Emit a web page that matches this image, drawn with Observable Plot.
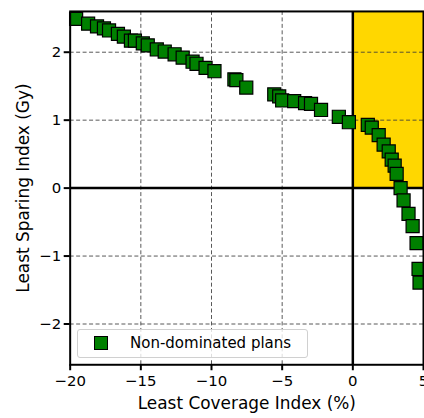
<!DOCTYPE html>
<html>
<head>
<meta charset="utf-8">
<script src="https://cdn.jsdelivr.net/npm/d3@7"></script>
<script src="https://cdn.jsdelivr.net/npm/@observablehq/plot@0.6"></script>
<style>
  html, body { margin: 0; padding: 0; background: #fff; overflow: hidden; }
  #wrap { position: relative; width: 424px; height: 418px; overflow: hidden; font-family: "DejaVu Sans", sans-serif; }
  #legend { position: absolute; left: 77px; top: 329px; width: 231px; height: 29px; box-sizing: border-box;
    border: 1px solid #d0d0d0; border-radius: 3px; background: rgba(255,255,255,0.8); }
  #legend span.sw { position: absolute; left: 16px; top: 6px; width: 14px; height: 14px; box-sizing: border-box;
    background: #008000; border: 1px solid #000; }
  #legend span.tx { position: absolute; left: 52px; top: 4px; font-size: 15px; color: #000; line-height: 19px; }
</style>
</head>
<body>
<div id="wrap"></div>
<script>
// Data
const coverage = [-19.58, -18.73, -18.10, -17.61, -17.25, -16.62, -16.20, -15.70, -15.42, -14.86, -14.51,
  -13.87, -13.31, -12.61, -12.04, -11.34, -11.06, -10.42, -9.79, -8.38, -8.24, -7.54,
  -5.56, -5.21, -5.00, -4.15, -3.38, -2.96, -2.25, -0.99, -0.28,
  1.06, 1.34, 1.83, 2.18, 2.54, 2.75, 2.96, 3.10, 3.38, 3.59, 3.94, 4.23, 4.51, 4.65, 4.72];
const sparing = [2.49, 2.42, 2.38, 2.35, 2.32, 2.27, 2.23, 2.17, 2.17, 2.13, 2.10,
  2.04, 2.01, 1.97, 1.92, 1.86, 1.83, 1.77, 1.72, 1.60, 1.59, 1.48,
  1.38, 1.35, 1.29, 1.28, 1.25, 1.24, 1.15, 1.05, 0.97,
  0.93, 0.89, 0.78, 0.64, 0.54, 0.42, 0.33, 0.21, 0.00, -0.18, -0.38, -0.56, -0.81, -1.19, -1.39];
const xTicks = [-20, -15, -10, -5, 0, 5];
const yTicks = [-2, -1, 0, 1, 2];
const xGrid = [-15, -10, -5];
const yGrid = [-2, -1, 1, 2];
const xDomain = [-20, 5];
const yDomain = [-2.6, 2.6];
const goalX = [0, 5];
const goalY = [0, 2.6];
const xLabel = "Least Coverage Index (%)";
const yLabel = "Least Sparing Index (Gy)";
const seriesName = "Non-dominated plans";

const points = coverage.map((x, i) => ({x, y: sparing[i]}));
const region = [{x1: goalX[0], x2: goalX[1], y1: goalY[0], y2: goalY[1]}];
const fmt = d3.format("d");

const chart = Plot.plot({
  width: 426,
  height: 418,
  marginLeft: 70,
  marginRight: 1,
  marginTop: 11,
  marginBottom: 52,
  style: {fontFamily: "DejaVu Sans, sans-serif", fontSize: "15px", background: "white", overflow: "visible"},
  x: {domain: xDomain},
  y: {domain: yDomain},
  marks: [
    Plot.rect(region, {x1: "x1", x2: "x2", y1: "y1", y2: "y2", fill: "#FFD700"}),
    Plot.ruleX(xGrid, {stroke: "#3a3a3a", strokeWidth: 1, strokeDasharray: "4,2.5", strokeOpacity: 0.85}),
    Plot.ruleY(yGrid, {stroke: "#3a3a3a", strokeWidth: 1, strokeDasharray: "4,2.5", strokeOpacity: 0.85}),
    Plot.ruleX([0], {stroke: "black", strokeWidth: 2.5}),
    Plot.ruleY([0], {stroke: "black", strokeWidth: 2.5}),
    Plot.dot(points, {x: "x", y: "y", symbol: "square", r: 7.4, fill: "#008000", stroke: "black", strokeWidth: 1.2}),
    Plot.frame({stroke: "black", strokeWidth: 2}),
    Plot.axisX({ticks: xTicks, tickFormat: fmt, tickSize: 6, tickPadding: 5, strokeWidth: 2, fontSize: 15, label: null}),
    Plot.axisY({ticks: yTicks, tickFormat: fmt, tickSize: 6, tickPadding: 3, strokeWidth: 2, fontSize: 15, label: null}),
    Plot.text([xLabel], {text: d => d, frameAnchor: "bottom", textAnchor: "middle", lineAnchor: "middle", dy: 39, fontSize: 17, fill: "black"}),
    Plot.text([yLabel], {text: d => d, frameAnchor: "left", textAnchor: "middle", lineAnchor: "middle", rotate: -90, dx: -47, fontSize: 17, fill: "black"})
  ]
});

const wrap = document.getElementById("wrap");
wrap.appendChild(chart);
const legend = document.createElement("div");
legend.id = "legend";
legend.innerHTML = `<span class="sw"></span><span class="tx"></span>`;
legend.querySelector(".tx").textContent = seriesName;
wrap.appendChild(legend);
</script>
</body>
</html>
